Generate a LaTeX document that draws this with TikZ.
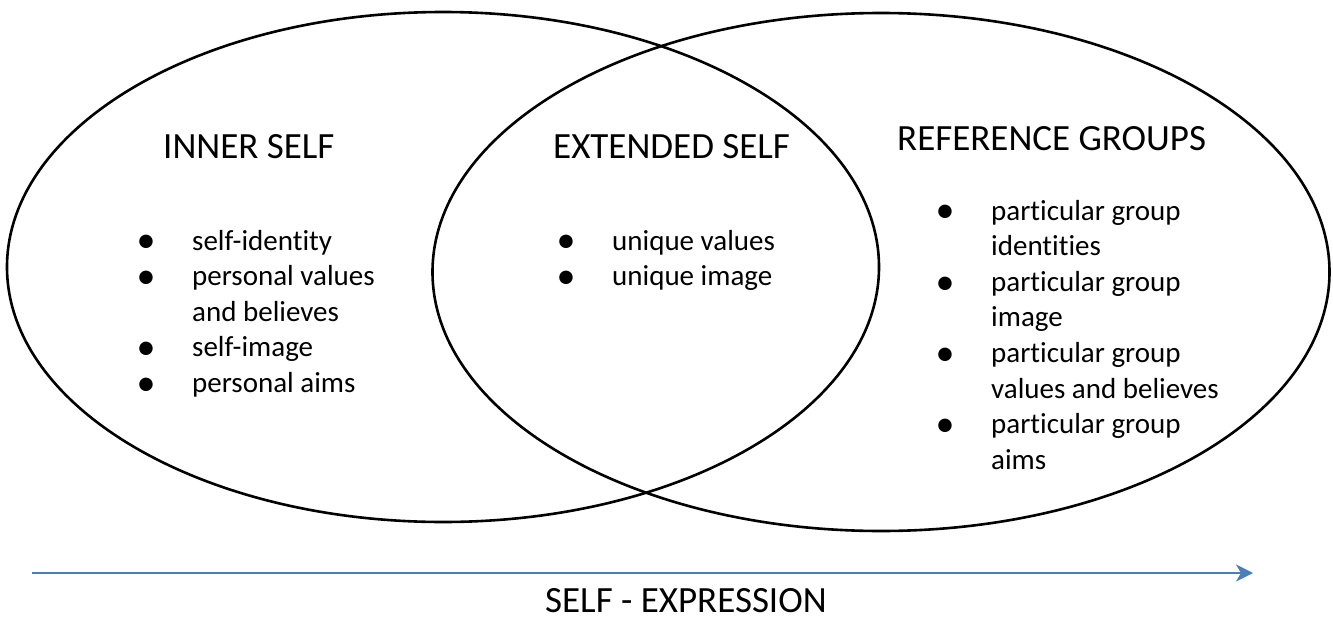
\documentclass[tikz,border=0pt]{standalone}
\usepackage{fontspec}
\setmainfont{Carlito}[Ligatures=NoCommon]
\usetikzlibrary{shapes.geometric,arrows.meta}
\definecolor{arrowblue}{RGB}{74,126,187}
\newcommand{\bul}{\makebox[0pt][c]{\fontsize{38}{0}\selectfont\raisebox{-2.8pt}{•}}}
\begin{document}
\begin{tikzpicture}[x=1pt,y=-1pt,
  venn/.style={draw=black, line width=2.6pt, ellipse, inner sep=0pt},
  head/.style={font=\fontsize{37}{44}\selectfont, anchor=base west, inner sep=0pt},
  itemlist/.style={font=\fontsize{29}{35.6}\selectfont, anchor=base west, inner sep=0pt},
  flow/.style={draw=arrowblue, line width=2pt, -{Stealth[length=17pt,width=17pt,inset=5pt]}}
]
\useasboundingbox (0,0) rectangle (1333,621);
\node[venn, minimum width=872pt, minimum height=510pt] (inner) at (443,267) {};
\node[venn, minimum width=897pt, minimum height=518pt] (outer) at (881,272) {};

\node[head] (h1) at (163,158) {INNER SELF};
\node[head] (h2) at (553,158) {EXTENDED SELF};
\node[head] (h3) at (897,150) {REFERENCE GROUPS};

\node[itemlist] (l1) at (146,250) {\begin{tabular}[t]{@{}p{46pt}@{}l@{}}
\bul& self-identity\\
\bul& personal values\\
 & and believes\\
\bul& self-image\\
\bul& personal aims
\end{tabular}};
\node[itemlist] (l2) at (566,250) {\begin{tabular}[t]{@{}p{46pt}@{}l@{}}
\bul& unique values\\
\bul& unique image
\end{tabular}};
\node[itemlist] (l3) at (945,220) {\begin{tabular}[t]{@{}p{46pt}@{}l@{}}
\bul& particular group\\
 & identities\\
\bul& particular group\\
 & image\\
\bul& particular group\\
 & values and believes\\
\bul& particular group\\
 & aims
\end{tabular}};

\coordinate (a0) at (32,573);
\coordinate (a1) at (1253,573);
\draw[flow] (a0) -- (a1);
\node[head] (se) at (545,612) {SELF - EXPRESSION};
\end{tikzpicture}
\end{document}
